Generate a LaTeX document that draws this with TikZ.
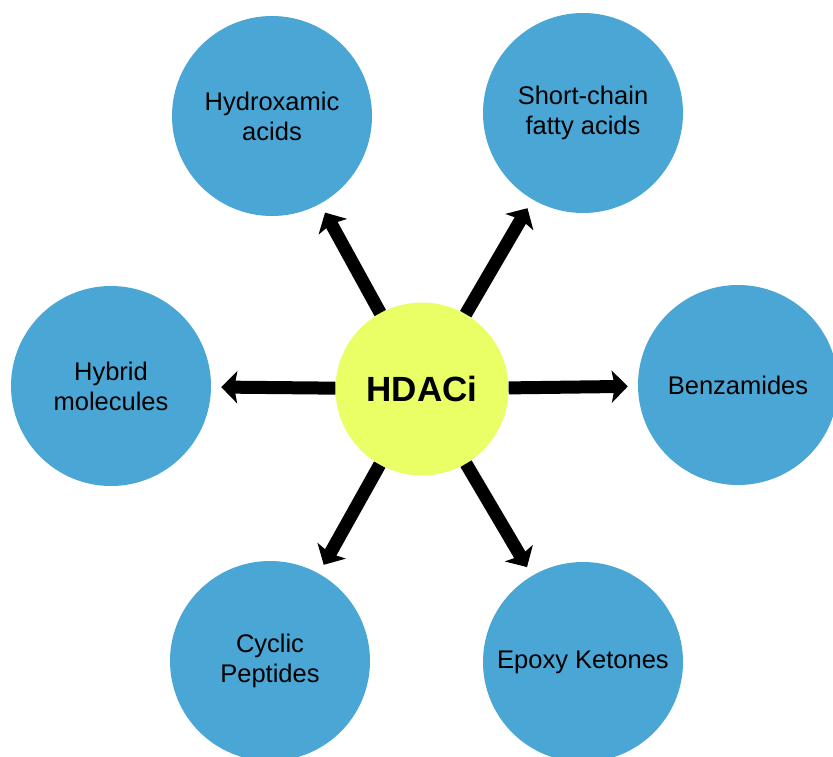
\documentclass[tikz,border=0pt]{standalone}
\usepackage{fontspec}
\setmainfont{Liberation Sans}
\usepackage{xcolor}
\usetikzlibrary{arrows.meta}
\definecolor{cblue}{HTML}{4AA6D4}
\definecolor{clime}{HTML}{EAFF66}

\begin{document}
\begin{tikzpicture}[
    x=1pt, y=-1pt,
    font=\fontsize{25.5}{30}\selectfont,
    klass/.style={
        circle, fill=cblue, minimum size=200pt, inner sep=0pt,
        align=center, text=black
    },
    hub/.style={
        circle, fill=clime, minimum size=173pt, inner sep=0pt,
        font=\fontsize{35}{40}\selectfont\bfseries
    },
    arr/.style={
        -{Stealth[length=16pt, width=32pt, inset=3pt]},
        line width=13pt, draw=black, shorten >=10pt
    },
]

% --- page frame (reference margins) ----------------------------------
\useasboundingbox (0,0) rectangle (833,757);
\clip (0,0) rectangle (833,757);

% --- hub --------------------------------------------------------------
\node[hub]   (hdac)  at (422, 389) {HDACi};

% --- inhibitor classes, clockwise from top left ----------------------
\node[klass] (hydrox) at (272, 116) {Hydroxamic\\acids};
\node[klass] (scfa)   at (583, 113) {Short-chain\\fatty acids};
\node[klass] (benz)   at (738, 385) {Benzamides};
\node[klass] (epoxy)  at (583, 662) {Epoxy Ketones};
\node[klass] (cyclic) at (270, 661) {Cyclic\\Peptides};
\node[klass] (hybrid) at (111, 386) {Hybrid\\molecules};

% --- spokes -----------------------------------------------------------
\draw[arr] (hdac) -- (hydrox);
\draw[arr] (hdac) -- (scfa);
\draw[arr] (hdac) -- (benz);
\draw[arr] (hdac) -- (epoxy);
\draw[arr] (hdac) -- (cyclic);
\draw[arr] (hdac) -- (hybrid);

\end{tikzpicture}
\end{document}
